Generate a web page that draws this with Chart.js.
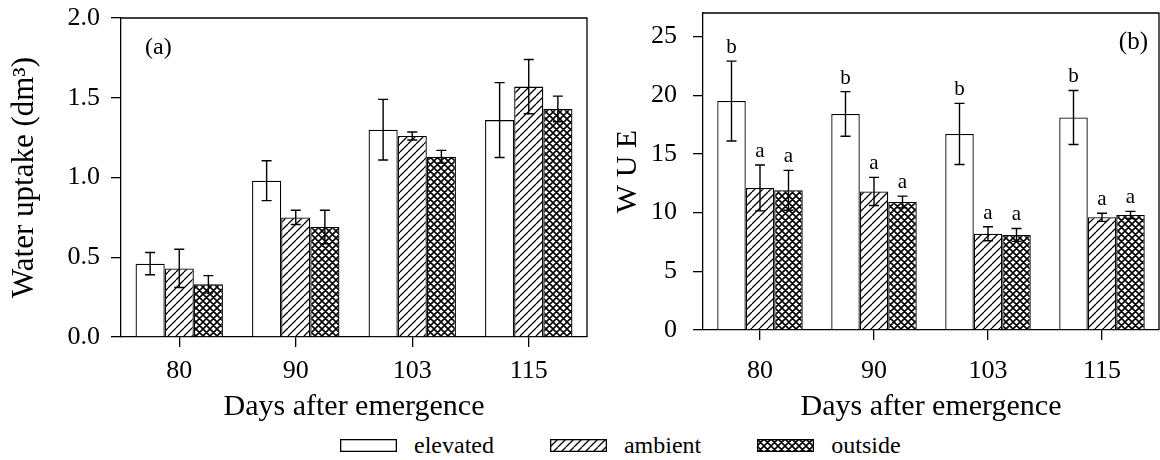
<!doctype html>
<html lang="en">

<head>
    <meta charset="utf-8" />
    <title>Water uptake and WUE</title>
    <script src="https://cdn.jsdelivr.net/npm/chart.js"></script>
    <style>
        body {
            margin: 0;
            background: #fff;
            width: 1160px;
            height: 460px;
            position: relative;
            overflow: hidden;
            color: #000;
        }

        #chartUptake { position: absolute; left: 0; top: 0; }
        #chartWue { position: absolute; left: 600px; top: 0; }

        #legend {
            position: absolute;
            left: 340px;
            top: 438px;
            display: flex;
            align-items: center;
            font-family: "Liberation Serif", "Times New Roman", serif;
            font-size: 24px;
            line-height: 15px;
        }

        #legend .item { display: flex; align-items: center; margin-right: 56px; }
        #legend canvas { margin-right: 17px; }
    </style>
</head>

<body>
    <canvas id="chartUptake" width="600" height="430"></canvas>
    <canvas id="chartWue" width="560" height="430"></canvas>
    <div id="legend"></div>

    <script>
        // days after emergence
        const days = ['80', '90', '103', '115'];
        const treatments = ['elevated', 'ambient', 'outside'];

        // (a) water uptake, dm3
        const uptakeElevated = [0.46, 0.98, 1.30, 1.36];
        const uptakeElevatedErr = [0.07, 0.125, 0.19, 0.235];
        const uptakeAmbient = [0.43, 0.75, 1.26, 1.57];
        const uptakeAmbientErr = [0.12, 0.045, 0.025, 0.17];
        const uptakeOutside = [0.33, 0.69, 1.13, 1.43];
        const uptakeOutsideErr = [0.055, 0.105, 0.04, 0.08];
        const uptakeTicks = [0, 0.5, 1.0, 1.5, 2.0];

        // (b) water use efficiency
        const wueElevated = [19.5, 18.4, 16.7, 18.1];
        const wueElevatedErr = [3.4, 1.9, 2.6, 2.3];
        const wueAmbient = [12.1, 11.8, 8.2, 9.6];
        const wueAmbientErr = [1.95, 1.2, 0.6, 0.35];
        const wueOutside = [11.9, 10.9, 8.1, 9.8];
        const wueOutsideErr = [1.7, 0.5, 0.55, 0.3];
        const wueTicks = [0, 5, 10, 15, 20, 25];
        const wueElevatedLetters = ['b', 'b', 'b', 'b'];
        const wueAmbientLetters = ['a', 'a', 'a', 'a'];
        const wueOutsideLetters = ['a', 'a', 'a', 'a'];

        const SERIF = '"Liberation Serif", "Times New Roman", serif';
        Chart.defaults.font.family = SERIF;
        Chart.defaults.color = '#000';

        // black and white fills: plain, single hatch, cross hatch
        function makeFill(kind) {
            if (kind === 'elevated') return '#fff';
            const cross = kind === 'outside';
            const size = cross ? 7 : 8;
            const c = document.createElement('canvas');
            c.width = c.height = size;
            const g = c.getContext('2d');
            g.fillStyle = '#fff';
            g.fillRect(0, 0, size, size);
            g.strokeStyle = '#000';
            g.lineWidth = cross ? 1.6 : 1.3;
            g.beginPath();
            for (const k of [-1, 0, 1]) {
                g.moveTo(k * size, size);
                g.lineTo(k * size + size, 0);
                if (cross) {
                    g.moveTo(k * size, 0);
                    g.lineTo(k * size + size, size);
                }
            }
            g.stroke();
            return g.createPattern(c, 'repeat');
        }

        const FILLS = {};
        for (const t of treatments) FILLS[t] = makeFill(t);

        function dataset(label, values, err, letters) {
            return {
                label: label,
                data: values,
                err: err,
                letters: letters,
                backgroundColor: FILLS[label],
                borderColor: '#000',
                borderWidth: 1.3,
                barPercentage: 1.0,
                categoryPercentage: 0.75
            };
        }

        // error bars and significance letters on top of the bars
        const errorBars = {
            id: 'errorBars',
            afterDatasetsDraw(chart) {
                const ctx = chart.ctx;
                const y = chart.scales.y;
                ctx.save();
                ctx.strokeStyle = '#000';
                ctx.fillStyle = '#000';
                ctx.lineWidth = 1.4;
                ctx.font = '21px ' + SERIF;
                ctx.textAlign = 'center';
                ctx.textBaseline = 'alphabetic';
                chart.data.datasets.forEach((ds, i) => {
                    const meta = chart.getDatasetMeta(i);
                    meta.data.forEach((bar, j) => {
                        const top = y.getPixelForValue(ds.data[j] + ds.err[j]);
                        const bot = y.getPixelForValue(ds.data[j] - ds.err[j]);
                        ctx.beginPath();
                        ctx.moveTo(bar.x, top);
                        ctx.lineTo(bar.x, bot);
                        ctx.moveTo(bar.x - 5, top);
                        ctx.lineTo(bar.x + 5, top);
                        ctx.moveTo(bar.x - 5, bot);
                        ctx.lineTo(bar.x + 5, bot);
                        ctx.stroke();
                        if (ds.letters) {
                            ctx.fillText(ds.letters[j], bar.x, top - 8);
                        }
                    });
                });
                ctx.restore();
            }
        };

        // closes the plot box and writes the panel tag
        const frame = {
            id: 'frame',
            afterDraw(chart, args, opts) {
                const { left, top, right, bottom } = chart.chartArea;
                const ctx = chart.ctx;
                ctx.save();
                ctx.strokeStyle = '#000';
                ctx.lineWidth = 1.3;
                ctx.beginPath();
                ctx.moveTo(left, top);
                ctx.lineTo(right, top);
                ctx.lineTo(right, bottom);
                ctx.stroke();
                ctx.fillStyle = '#000';
                ctx.font = opts.size + 'px ' + SERIF;
                ctx.textAlign = opts.align;
                ctx.textBaseline = 'alphabetic';
                ctx.fillText(opts.tag, opts.x, opts.y);
                ctx.restore();
            }
        };

        function buildChart(id, datasets, yTicks, yMax, cfg) {
            const ctx = document.getElementById(id);
            return new Chart(ctx, {
                type: 'bar',
                data: { labels: days, datasets: datasets },
                plugins: [errorBars, frame],
                options: {
                    responsive: false,
                    animation: false,
                    layout: { padding: { top: cfg.top, right: cfg.right, left: 0, bottom: 0 } },
                    plugins: {
                        legend: { display: false },
                        tooltip: { enabled: false },
                        frame: cfg.tag
                    },
                    scales: {
                        x: {
                            afterFit: (s) => { s.height = cfg.xHeight; },
                            grid: {
                                display: true, drawOnChartArea: false, offset: false,
                                tickLength: 10, color: '#000', lineWidth: 1.3
                            },
                            border: { color: '#000', width: 1.3 },
                            ticks: { font: { size: 26 }, padding: cfg.xPad, maxRotation: 0 },
                            title: {
                                display: true, text: 'Days after emergence',
                                font: { size: 30 }, padding: { top: 0, bottom: 5 }
                            }
                        },
                        y: {
                            min: 0,
                            max: yMax,
                            afterFit: (s) => {
                                s.width = cfg.yWidth;
                                s.paddingTop = 0;
                                s.paddingBottom = 0;
                            },
                            afterBuildTicks: (s) => { s.ticks = yTicks.map((v) => ({ value: v })); },
                            grid: {
                                display: true, drawOnChartArea: false,
                                tickLength: 10, color: '#000', lineWidth: 1.3
                            },
                            border: { color: '#000', width: 1.3 },
                            ticks: {
                                font: { size: 26 }, padding: cfg.yPad,
                                callback: (v) => cfg.decimals ? Number(v).toFixed(1) : String(v)
                            },
                            title: {
                                display: true, text: cfg.yTitle,
                                font: { size: cfg.yTitleSize }, padding: { top: cfg.yTitlePad, bottom: 0 }
                            }
                        }
                    }
                }
            });
        }

        buildChart('chartUptake', [
            dataset('elevated', uptakeElevated, uptakeElevatedErr),
            dataset('ambient', uptakeAmbient, uptakeAmbientErr),
            dataset('outside', uptakeOutside, uptakeOutsideErr)
        ], uptakeTicks, 2.0, {
            top: 18, right: 13, xHeight: 93, yWidth: 121, xPad: 9, yPad: 11,
            decimals: true, yTitle: 'Water uptake (dm³)', yTitleSize: 31, yTitlePad: 6,
            tag: { tag: '(a)', size: 24, align: 'left', x: 145, y: 54 }
        });

        buildChart('chartWue', [
            dataset('elevated', wueElevated, wueElevatedErr, wueElevatedLetters),
            dataset('ambient', wueAmbient, wueAmbientErr, wueAmbientLetters),
            dataset('outside', wueOutside, wueOutsideErr, wueOutsideLetters)
        ], wueTicks, 27, {
            top: 13, right: 1, xHeight: 100, yWidth: 103, xPad: 16, yPad: 16,
            decimals: false, yTitle: 'W U E', yTitleSize: 30, yTitlePad: 10,
            tag: { tag: '(b)', size: 25, align: 'right', x: 548, y: 49 }
        });

        // shared legend below both panels
        const legend = document.getElementById('legend');
        for (const t of treatments) {
            const item = document.createElement('div');
            item.className = 'item';
            const sw = document.createElement('canvas');
            sw.width = 57;
            sw.height = 13;
            const g = sw.getContext('2d');
            g.fillStyle = FILLS[t];
            g.fillRect(0, 0, 57, 13);
            g.strokeStyle = '#000';
            g.lineWidth = 1.3;
            g.strokeRect(0.65, 0.65, 55.7, 11.7);
            const label = document.createElement('span');
            label.textContent = t;
            item.appendChild(sw);
            item.appendChild(label);
            legend.appendChild(item);
        }
    </script>
</body>

</html>
